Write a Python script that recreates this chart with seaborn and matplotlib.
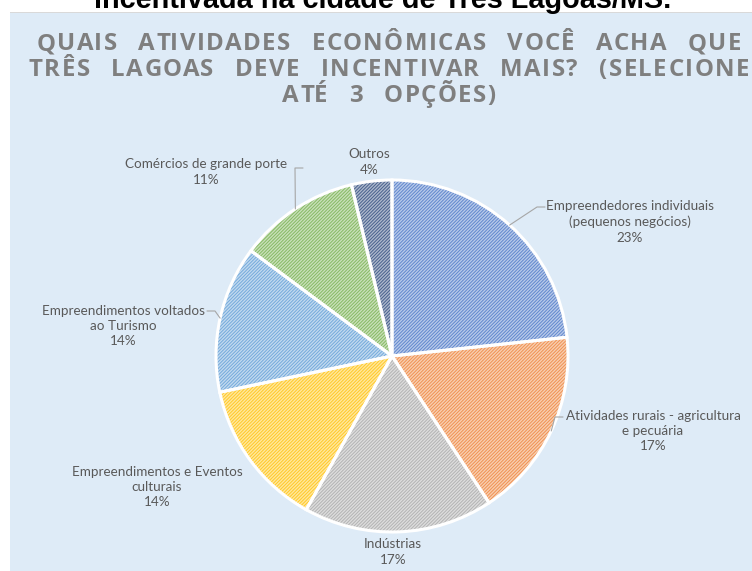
import matplotlib
matplotlib.use("Agg")
import matplotlib.pyplot as plt
import seaborn as sns
import numpy as np
from matplotlib.patches import Rectangle
from matplotlib.font_manager import FontProperties

sns.set_theme(style="white")
plt.rcParams["font.family"] = ["Lato", "DejaVu Sans"]
plt.rcParams["hatch.linewidth"] = 0.7

# data
categories = ["Empreendedores individuais\n(pequenos negócios)",
              "Atividades rurais - agricultura\ne pecuária",
              "Indústrias",
              "Empreendimentos e Eventos\nculturais",
              "Empreendimentos voltados\nao Turismo",
              "Comércios de grande porte",
              "Outros"]
shares = [23.3, 17.4, 17.4, 13.6, 13.5, 11.1, 3.7]
base_colors = ["#4472C4", "#ED7D31", "#A5A5A5", "#FFC000", "#5B9BD5", "#70AD47", "#264478"]

title_lines = ["QUAIS ATIVIDADES ECONÔMICAS VOCÊ ACHA QUE",
               "TRÊS LAGOAS DEVE INCENTIVAR MAIS? (SELECIONE",
               "ATÉ 3 OPÇÕES)"]
caption = "incentivada na cidade de Três Lagoas/MS."

# label layout in pixels (x, y from top), leader end point or None
label_pos = [(630, 222), (653, 431), (393, 552), (157, 487), (123, 326), (206, 172), (369, 162)]
leader_end = [(545, 207), (563, 417), None, None, (207, 311), (303, 168), None]

W, H = 752, 571
fig = plt.figure(figsize=(W / 100, H / 100), dpi=100)
fig.patch.set_facecolor("white")

ax = fig.add_axes([0, 0, 1, 1])
ax.patch.set_alpha(0)

# light blue chart area
ax.add_patch(Rectangle((10, 0), W, H - 12, facecolor="#DEEBF7", edgecolor="none", zorder=0))
ax.add_patch(Rectangle((10, H - 13), W, 1.5, facecolor="#D9D9D9", edgecolor="none", zorder=0))

cx, cy, r = 392, H - 356, 176
pal = sns.color_palette(base_colors)
light = [tuple(0.62 + 0.38 * c for c in col) for col in pal]
mid_tone = [tuple(0.15 + 0.85 * c for c in col) for col in pal]

wedges, _ = ax.pie(shares, colors=light, startangle=90, counterclock=False,
                   center=(cx, cy), radius=r, wedgeprops=dict(linewidth=0, zorder=2))
for w, col in zip(wedges, mid_tone):
    w.set_edgecolor(col)
    w.set_hatch("//////////")
    w.set_linewidth(0)

ax.pie(shares, colors=["none"] * len(shares), startangle=90, counterclock=False,
       center=(cx, cy), radius=r, wedgeprops=dict(linewidth=2.2, edgecolor="white", zorder=3))

ax.set_xlim(0, W)
ax.set_ylim(0, H)
ax.set_aspect("auto")
ax.axis("off")

total = sum(shares)
for w, cat, val, pos, end in zip(wedges, categories, shares, label_pos, leader_end):
    txt = f"{cat}\n{round(val / total * 100):.0f}%"
    ax.text(pos[0], H - pos[1], txt, ha="center", va="center", fontsize=9.7,
            color="#595959", linespacing=1.33, zorder=4)
    if end is not None:
        mid = np.deg2rad((w.theta1 + w.theta2) / 2)
        sx, sy = cx + r * np.cos(mid), cy + r * np.sin(mid)
        ex, ey = end[0], H - end[1]
        kx = ex - 8 if ex > sx else ex + 8
        ax.plot([sx, kx, ex], [sy, ey, ey], color="#A6A6A6", lw=0.8, zorder=4)

# chart title, letter spaced: measure prefix advances with the renderer
tprop = FontProperties(family="Open Sans", weight="bold", size=17.3)
renderer = fig.canvas.get_renderer()


def text_width(s):
    t = fig.text(0, 0, s, fontproperties=tprop)
    wd = t.get_window_extent(renderer).width
    t.remove()
    return wd


def char_offsets(line):
    base = text_width("HH")
    return [text_width("H" + line[:i] + "H") - base for i in range(len(line) + 1)]


letter_sp = 1.5
offs0 = char_offsets(title_lines[0])
n_sp = title_lines[0].count(" ")
word_extra = (705 - offs0[-1] - letter_sp * (len(title_lines[0]) - 1)) / n_sp

for i, line in enumerate(title_lines):
    offs = char_offsets(line)
    xs, spaces = [], 0
    for j, ch in enumerate(line):
        xs.append(offs[j] + letter_sp * j + word_extra * spaces)
        if ch == " ":
            spaces += 1
    width = offs[-1] + letter_sp * (len(line) - 1) + word_extra * spaces
    x0 = 389 - width / 2
    for ch, xo in zip(line, xs):
        if ch != " ":
            ax.text(x0 + xo, H - (50 + 26 * i), ch, ha="left", va="baseline",
                    fontproperties=tprop, color="#7F7F7F", zorder=4)

# caption cut at the top of the screenshot
fig.text(383 / W, 1 - 8.5 / H, caption, ha="center", va="baseline", fontsize=20.8,
         fontweight="bold", color="black", family="Liberation Sans")

fig.savefig("out.png", dpi=100)
